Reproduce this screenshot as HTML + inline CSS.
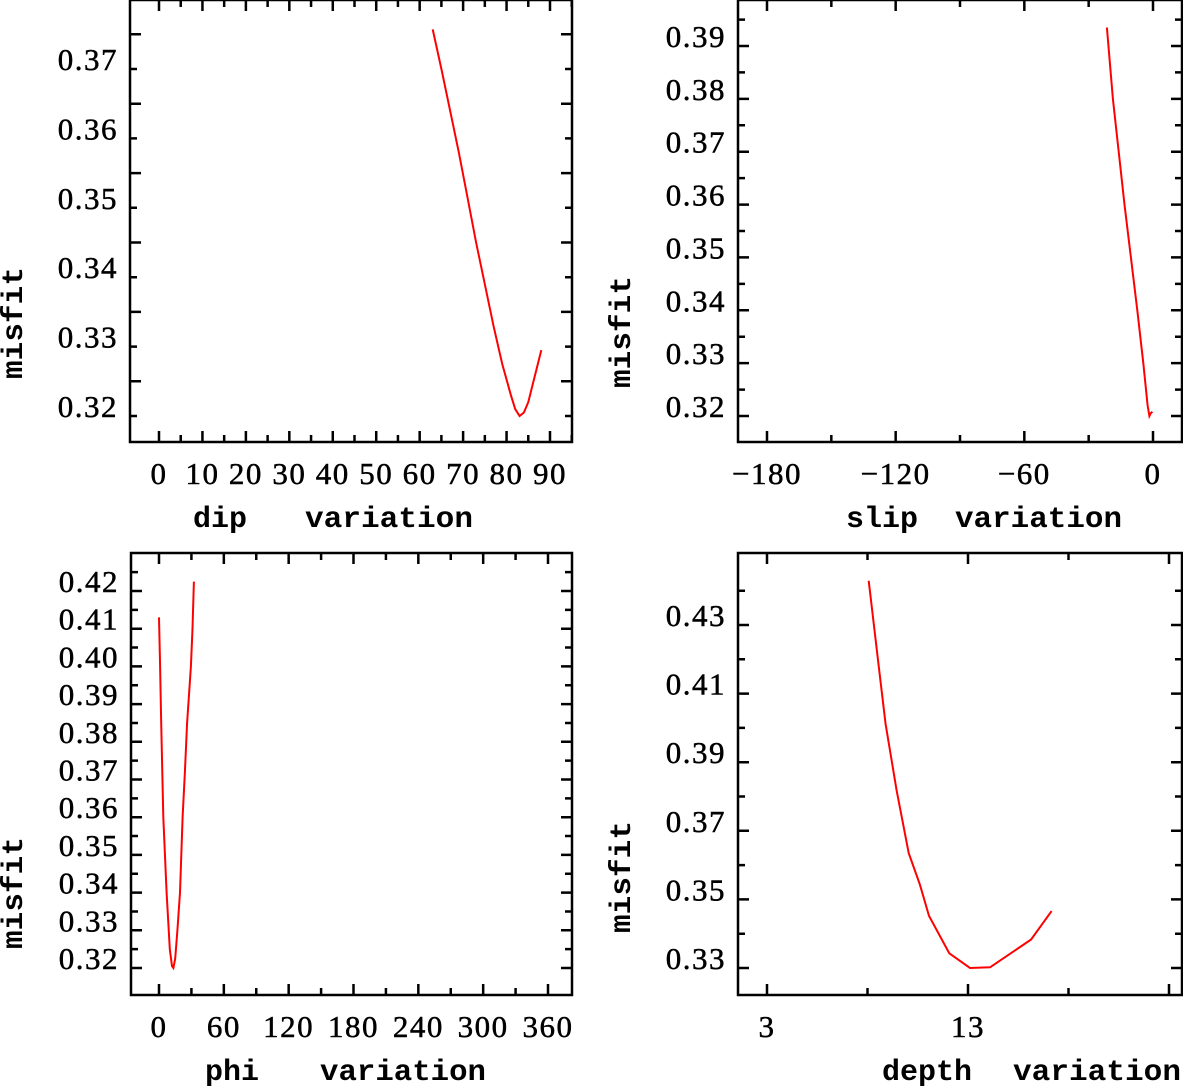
<!DOCTYPE html>
<html><head><meta charset="utf-8">
<style>
html,body{margin:0;padding:0;background:#fff;}
svg{display:block;}
.tk{font-family:"Liberation Serif",serif;font-size:31px;fill:#000;stroke:#000;stroke-width:0.5px;letter-spacing:1.5px;}
.ti{font-family:"Liberation Mono",monospace;font-size:30px;font-weight:bold;fill:#000;}
</style></head>
<body>
<svg id="chart" width="1183" height="1086" viewBox="0 0 1183 1086" xmlns="http://www.w3.org/2000/svg"></svg>
<script>
// Panel 1: dip variation
const dipX = [63, 65, 67, 69, 71, 73, 75, 77, 79, 81, 82, 83, 84, 85, 86, 87, 88];
const dipY = [0.3757, 0.3700, 0.3640, 0.3580, 0.3515, 0.3450, 0.3390, 0.3330, 0.3275, 0.3230, 0.3210, 0.3200, 0.3205, 0.3220, 0.3245, 0.3270, 0.3295];
const dipXTicks = ["0","10","20","30","40","50","60","70","80","90"];
const dipYTicks = ["0.32","0.33","0.34","0.35","0.36","0.37"];
// Panel 2: slip variation
const slipX = [-21.5, -18.7, -16, -13.3, -10.3, -7.3, -4.5, -2.5, -1.7, -1.1, -0.3];
const slipY = [0.3935, 0.380, 0.370, 0.360, 0.350, 0.340, 0.330, 0.322, 0.3200, 0.3205, 0.3208];
const slipXTicks = ["-180","-120","-60","0"];
const slipYTicks = ["0.32","0.33","0.34","0.35","0.36","0.37","0.38","0.39"];
// Panel 3: phi variation
const phiX = [0, 1, 2, 4, 7, 10, 12, 13.3, 15, 17, 19.4, 21.8, 24, 26, 29.5, 31, 32.3];
const phiY = [0.413, 0.400, 0.385, 0.360, 0.340, 0.325, 0.3205, 0.320, 0.3225, 0.330, 0.340, 0.360, 0.372, 0.385, 0.400, 0.410, 0.4225];
const phiXTicks = ["0","60","120","180","240","300","360"];
const phiYTicks = ["0.32","0.33","0.34","0.35","0.36","0.37","0.38","0.39","0.40","0.41","0.42"];
// Panel 4: depth variation
const depthX = [8.06, 8.53, 8.9, 9.45, 10.05, 10.6, 11.06, 12.07, 13.1, 14.1, 16.14, 17.16];
const depthY = [0.4429, 0.4193, 0.4011, 0.3818, 0.3635, 0.3544, 0.3452, 0.3343, 0.3300, 0.3302, 0.3383, 0.3466];
const depthXTicks = ["3","13"];
const depthYTicks = ["0.33","0.35","0.37","0.39","0.41","0.43"];

const NS = "http://www.w3.org/2000/svg";
const svg = document.getElementById("chart");
function mk(tag, parent, attrs){const e=document.createElementNS(NS,tag);for(const k in attrs)e.setAttribute(k,attrs[k]);parent.appendChild(e);return e;}

function panel(p){
  const g = mk("g", svg, {});
  
  
  const sx = v => p.x0px + (v - p.x0) * (p.x1px - p.x0px) / (p.x1 - p.x0);
  const sy = v => p.y0px + (v - p.y0) * (p.y1px - p.y0px) / (p.y1 - p.y0);
  const fr = mk("rect", g, {x:p.L, y:p.T, width:p.R-p.L, height:p.B-p.T, fill:"none", stroke:"#000", "stroke-width":2.5});
  
  
  let d = "";
  for (let v = p.xtStart; v <= p.xtEnd + 1e-9; v += p.xMinor) {
    const X = sx(v); if (X < p.L || X > p.R) continue;
    const major = Math.abs(((v - p.xtStart) / p.xMajor) - Math.round((v - p.xtStart) / p.xMajor)) < 1e-6;
    const len = major ? 11 : 7;
    d += `M${X} ${p.B}V${p.B-len}M${X} ${p.T}V${p.T+len}`;
  }
  for (let v = p.ytStart; v <= p.ytEnd + 1e-9; v += p.yMinor) {
    const Y = sy(v); if (Y < p.T || Y > p.B) continue;
    const major = Math.abs(((v - p.ytStart) / p.yMajor) - Math.round((v - p.ytStart) / p.yMajor)) < 1e-6;
    const len = major ? 11 : 7;
    d += `M${p.L} ${Y}H${p.L+len}M${p.R} ${Y}H${p.R-len}`;
  }
  const tk = mk("path", g, {d:d, stroke:"#000", "stroke-width":2.5, fill:"none"});
  
  
  p.xLabels.forEach(s => {
    const v = parseFloat(s);
    const t = mk("text", g, {x:sx(v), y:p.B+42, class:"tk", "text-anchor":"middle"});
    t.textContent = s.replace("-", "\u2212");
    
    
  });
  p.yLabels.forEach(s => {
    const v = parseFloat(s);
    const t = mk("text", g, {x:p.L-12, y:sy(v)+1, class:"tk", "text-anchor":"end"});
    t.textContent = s;
    
    
  });
  const pts = p.xs.map((x,i) => sx(x).toFixed(1) + "," + sy(p.ys[i]).toFixed(1)).join(" ");
  const pl = mk("polyline", g, {points:pts, fill:"none", stroke:"#ff0000", "stroke-width":2});
  
  
  const t1 = mk("text", g, {x:p.w1x, y:p.titleY, class:"ti"});
  t1.textContent = p.w1;
  
  
  const t2 = mk("text", g, {x:p.w2x, y:p.titleY, class:"ti", textLength:p.w2len, lengthAdjust:"spacingAndGlyphs"});
  t2.textContent = "variation";
  
  
  const ty = mk("text", g, {x:0, y:0, class:"ti", "text-anchor":"middle", textLength:112, lengthAdjust:"spacingAndGlyphs",
     transform:`translate(${p.myx},${p.myy}) rotate(-90)`});
  ty.textContent = "misfit";
  
  
}

panel({name:"dip-panel", L:130, R:572, T:0, B:442, x0:0, x1:90, x0px:159, x1px:550, y0:0.32, y1:0.37, y0px:416, y1px:69,
  xtStart:0, xtEnd:95, xMinor:5, xMajor:10, ytStart:0.315, ytEnd:0.38, yMinor:0.005, yMajor:0.01,
  xLabels:dipXTicks, yLabels:dipYTicks, xs:dipX, ys:dipY,
  w1:"dip", w1x:193, w2x:305, w2len:168, titleY:527, myx:22, myy:323});
panel({name:"slip-panel", L:738, R:1182, T:0, B:442, x0:-180, x1:0, x0px:767, x1px:1153, y0:0.32, y1:0.39, y0px:416, y1px:46,
  xtStart:-180, xtEnd:0, xMinor:30, xMajor:60, ytStart:0.32, ytEnd:0.395, yMinor:0.005, yMajor:0.01,
  xLabels:slipXTicks, yLabels:slipYTicks, xs:slipX, ys:slipY,
  w1:"slip", w1x:846, w2x:955, w2len:167, titleY:527, myx:630, myy:332});
panel({name:"phi-panel", L:131, R:572, T:553, B:995, x0:0, x1:360, x0px:159, x1px:548, y0:0.32, y1:0.42, y0px:968, y1px:591,
  xtStart:0, xtEnd:360, xMinor:30, xMajor:60, ytStart:0.32, ytEnd:0.425, yMinor:0.005, yMajor:0.01,
  xLabels:phiXTicks, yLabels:phiYTicks, xs:phiX, ys:phiY,
  w1:"phi", w1x:205, w2x:320, w2len:166, titleY:1080, myx:22, myy:893});
panel({name:"depth-panel", L:738, R:1182, T:553, B:995, x0:3, x1:13, x0px:767, x1px:968, y0:0.33, y1:0.43, y0px:968, y1px:625,
  xtStart:3, xtEnd:23, xMinor:5, xMajor:10, ytStart:0.33, ytEnd:0.44, yMinor:0.01, yMajor:0.02,
  xLabels:depthXTicks, yLabels:depthYTicks, xs:depthX, ys:depthY,
  w1:"depth", w1x:882, w2x:1013, w2len:168, titleY:1080, myx:630, myy:877});
</script>
</body></html>
